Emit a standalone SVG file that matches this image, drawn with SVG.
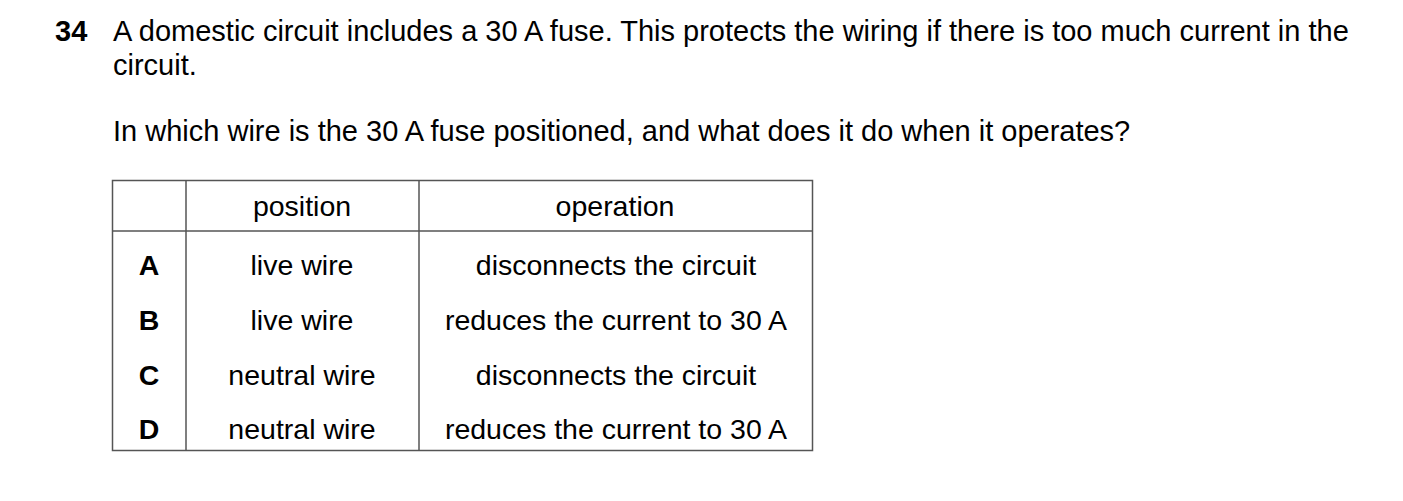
<svg xmlns="http://www.w3.org/2000/svg" width="1403" height="501" viewBox="0 0 1403 501">
<style>
text{font-family:"Liberation Sans",Arial,sans-serif;font-size:28.5px;fill:#000}
.h{font-size:29px}
.b{font-weight:bold}
.c{text-anchor:middle}
.t line,.t rect{stroke:#555;stroke-width:1.5;fill:none}
</style>
<rect width="1403" height="501" fill="#fff"/>
<text x="55" y="41" class="b h">34</text>
<text x="113" y="41" class="h">A domestic circuit includes a 30 A fuse. This protects the wiring if there is too much current in the</text>
<text x="113" y="75" class="h">circuit.</text>
<text x="113" y="141" class="h">In which wire is the 30 A fuse positioned, and what does it do when it operates?</text>
<g id="table" class="t">
<rect x="112.500" y="180.500" width="700" height="270"/>
<line x1="186" y1="180" x2="186" y2="451"/>
<line x1="419" y1="180" x2="419" y2="451"/>
<line x1="112" y1="231" x2="812" y2="231"/>
<text x="302" y="216" class="c">position</text>
<text x="615" y="216" class="c">operation</text>
<text x="149" y="275" class="c b">A</text>
<text x="149" y="330" class="c b">B</text>
<text x="149" y="385" class="c b">C</text>
<text x="149" y="439" class="c b">D</text>
<text x="302" y="275" class="c">live wire</text>
<text x="302" y="330" class="c">live wire</text>
<text x="302" y="385" class="c">neutral wire</text>
<text x="302" y="439" class="c">neutral wire</text>
<text x="616" y="275" class="c">disconnects the circuit</text>
<text x="616" y="330" class="c">reduces the current to 30 A</text>
<text x="616" y="385" class="c">disconnects the circuit</text>
<text x="616" y="439" class="c">reduces the current to 30 A</text>
</g>
</svg>
